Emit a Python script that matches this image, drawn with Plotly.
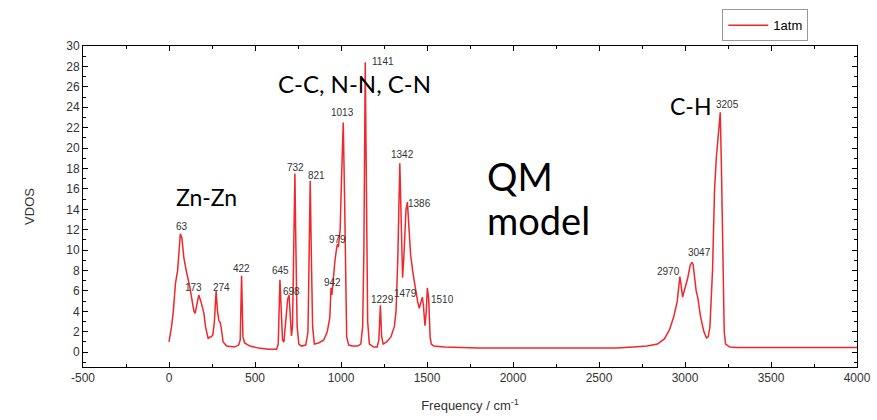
import plotly.graph_objects as go

# Spectrum (frequency in cm^-1, VDOS)
freq = [0, 15, 25, 38, 50, 58, 66, 75, 86, 100, 110, 120, 131, 145, 152, 163, 173, 185, 195, 203,
        212, 219, 228, 236, 245, 255, 264, 274, 282, 290, 298, 305, 315, 335, 380, 405, 414, 422, 430,
        440, 470, 520, 580, 625, 635, 645, 652, 660, 668, 680, 690, 698, 705, 712, 718, 725, 732, 738,
        745, 755, 770, 795, 808, 815, 821, 828, 835, 845, 870, 900, 920, 935, 942, 947, 955, 965, 973,
        979, 985, 995, 1003, 1013, 1020, 1026, 1033, 1045, 1065, 1095, 1115, 1126, 1133, 1141, 1148,
        1155, 1165, 1190, 1210, 1220, 1229, 1236, 1245, 1265, 1290, 1310, 1320, 1330, 1342, 1350, 1358,
        1366, 1378, 1386, 1395, 1405, 1418, 1430, 1445, 1455, 1465, 1473, 1479, 1488, 1496, 1502, 1510,
        1518, 1525, 1540, 1600, 1800, 2000, 2200, 2400, 2600, 2700, 2780, 2840, 2880, 2910, 2935, 2955,
        2962, 2970, 2978, 2986, 2995, 3005, 3015, 3030, 3040, 3047, 3055, 3065, 3075, 3090, 3110, 3125,
        3135, 3145, 3160, 3172, 3182, 3195, 3205, 3212, 3220, 3228, 3236, 3260, 3300, 3500, 3800, 4000]
vdos = [1.0, 2.5, 4.0, 6.8, 8.0, 10.0, 11.6, 11.2, 9.3, 8.0, 7.3, 6.5, 5.4, 4.0, 3.8, 4.8, 5.6, 5.0, 4.2, 3.8,
        2.5, 2.0, 1.3, 1.5, 1.5, 1.7, 3.0, 6.0, 4.0, 3.1, 2.9, 2.2, 1.0, 0.6, 0.5, 0.7, 1.2, 7.5, 1.5,
        0.9, 0.6, 0.4, 0.3, 0.3, 0.8, 7.1, 4.0, 1.2, 1.0, 3.0, 5.2, 5.6, 4.0, 1.6, 2.5, 10.0, 17.5, 10.0,
        2.5, 0.8, 0.6, 0.7, 2.0, 10.0, 16.8, 9.0, 2.5, 0.8, 0.9, 1.2, 2.0, 3.4, 6.3, 5.6, 7.5, 9.0, 10.0,
        10.6, 10.3, 12.0, 17.0, 22.5, 16.0, 6.0, 1.5, 0.7, 0.6, 0.6, 0.8, 2.5, 10.0, 28.4, 12.0,
        3.0, 0.8, 0.5, 0.5, 1.2, 4.6, 1.6, 0.8, 1.0, 1.5, 2.5, 4.0, 9.0, 18.5, 12.0, 7.3,
        9.5, 14.0, 14.7, 12.0, 9.5, 7.8, 6.5, 5.0, 4.3, 5.1, 5.4, 4.6, 2.6, 4.0, 6.3, 5.2,
        1.5, 0.8, 0.6, 0.5, 0.4, 0.4, 0.4, 0.4, 0.4, 0.5, 0.6, 0.8, 1.3, 2.2, 3.5, 5.0,
        6.5, 7.4, 6.5, 5.4, 6.0, 6.6, 7.2, 8.5, 8.8, 8.6, 7.5, 6.0, 5.3, 3.5, 2.0, 1.4,
        1.5, 2.5, 8.0, 16.0, 19.0, 21.5, 23.5, 18.0, 8.0, 2.0, 0.8, 0.5, 0.45, 0.45, 0.45, 0.45]

# Peak labels and where they sit
peak_text = ["63", "173", "274", "422", "645", "698", "732", "821", "942", "979", "1013", "1141",
             "1229", "1342", "1386", "1479", "1510", "2970", "3047", "3205"]
peak_x = [74, 144, 306, 423, 649, 715, 733, 858, 952, 981, 1010, 1242,
          1242, 1359, 1458, 1376, 1591, 2905, 3085, 3248]
peak_y = [12.3, 6.3, 6.3, 8.2, 8.0, 5.9, 18.1, 17.3, 6.8, 11.0, 23.5, 28.5,
          5.2, 19.4, 14.6, 5.8, 5.2, 7.9, 9.8, 24.3]

# Axis ticks
x_ticks = [-500, 0, 500, 1000, 1500, 2000, 2500, 3000, 3500, 4000]
x_tick_text = ["-500", "0", "500", "1000", "1500", "2000", "2500", "3000", "3500", "4000"]

fig = go.Figure()
fig.add_trace(go.Scatter(x=freq, y=vdos, mode="lines", name="1atm",
                         line=dict(color="#f0272b", width=1.5)))

for t, px, py in zip(peak_text, peak_x, peak_y):
    fig.add_annotation(x=px, y=py, text=t, showarrow=False,
                       font=dict(family="Liberation Sans", size=10, color="#333333"))

big_font = dict(family="Lato", color="#000000")
fig.add_annotation(x=220, y=15.2, text="Zn-Zn", showarrow=False, font=dict(size=23, **big_font))
fig.add_annotation(x=1078, y=26.35, text="C-C, N-N, C-N", showarrow=False, font=dict(size=24, **big_font))
fig.add_annotation(x=3034, y=24.1, text="C-H", showarrow=False, font=dict(size=23, **big_font))
fig.add_annotation(x=1838, y=17.3, text="QM", showarrow=False, xanchor="left",
                   font=dict(size=38, **big_font))
fig.add_annotation(x=1838, y=13.0, text="model", showarrow=False, xanchor="left",
                   font=dict(size=38, **big_font))

axis_common = dict(showline=True, linecolor="#000000", linewidth=1, mirror="allticks",
                   ticks="inside", ticklen=5, tickcolor="#000000", showgrid=False, zeroline=False,
                   tickfont=dict(family="Liberation Sans", size=12, color="#333333"))

fig.update_xaxes(range=[-500, 4000], tickvals=x_ticks, ticktext=x_tick_text,
                 minor=dict(dtick=250, ticks="inside", ticklen=3, tickcolor="#000000"),
                 title=dict(text="Frequency / cm<sup>-1</sup>", standoff=16,
                            font=dict(family="Liberation Sans", size=13, color="#333333")),
                 **axis_common)
fig.update_yaxes(range=[-1.45, 30], dtick=2, tick0=0,
                 minor=dict(dtick=1, ticks="inside", ticklen=3, tickcolor="#000000"),
                 title=dict(text="VDOS", standoff=28,
                            font=dict(family="Liberation Sans", size=13, color="#333333")),
                 **axis_common)

fig.update_layout(
    width=877, height=420,
    margin=dict(l=83, r=20, t=46, b=53, autoexpand=False),
    paper_bgcolor="white", plot_bgcolor="white",
    showlegend=True,
    legend=dict(x=0.826, y=1.114, xanchor="left", yanchor="top",
                bordercolor="#999999", borderwidth=1, bgcolor="white",
                font=dict(family="Liberation Sans", size=13, color="#000000"),
                itemwidth=40, tracegroupgap=0),
)

fig.write_html("out.html")
